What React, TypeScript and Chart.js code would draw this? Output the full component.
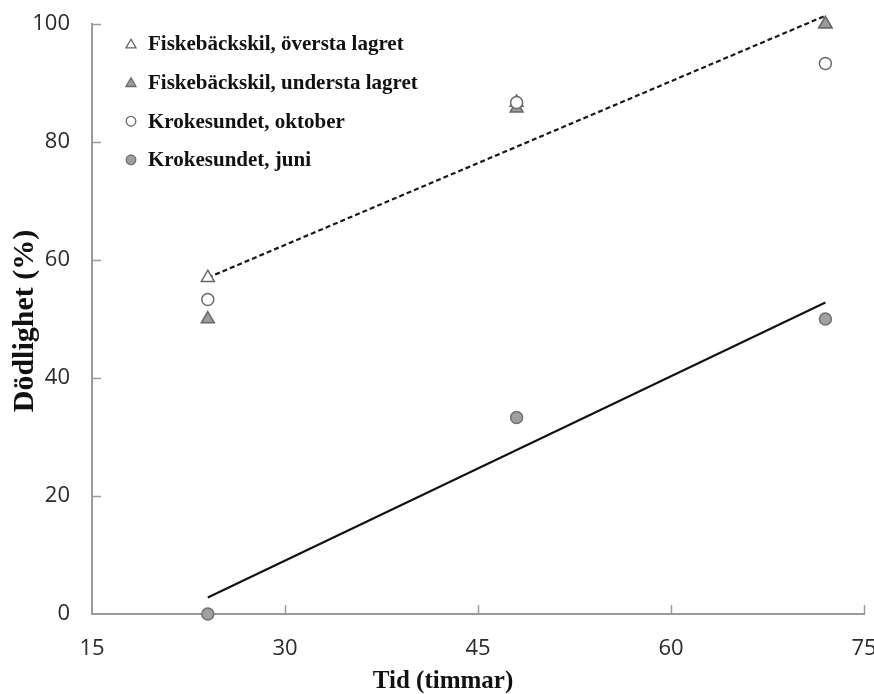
import React, { useEffect, useRef } from 'react';
import { Chart, registerables } from 'chart.js';

Chart.register(...registerables);

// ---- data ----
const timeHours = [24, 48, 72];
const fiskOversta = [57, 86.7, 100];
const fiskUndersta = [50, 85.7, 100];
const krokOktober = [53.3, 86.7, 93.3];
const krokJuni = [0, 33.3, 50];
const trendX = [24, 72];
const trendDashed = [57, 101.4];
const trendSolid = [2.8, 52.8];
const xTickValues = [15, 30, 45, 60, 75];
const yTickValues = [0, 20, 40, 60, 80, 100];
const seriesLabels = [
  'Fiskebäckskil, översta lagret',
  'Fiskebäckskil, understa lagret',
  'Krokesundet, oktober',
  'Krokesundet, juni',
];
const xTitle = 'Tid (timmar)';
const yTitle = 'Dödlighet (%)';

const SERIF = "'Liberation Serif', 'Times New Roman', serif";
const SANS = "'Open Sans', 'Liberation Sans', sans-serif";
const AXIS_COLOR = '#9a9a9a';
const TEXT_DARK = '#111111';

const toPoints = (xs: number[], ys: number[]) => xs.map((x, i) => ({ x, y: ys[i] }));

function drawMarker(ctx: CanvasRenderingContext2D, style: string, x: number, y: number, r: number, fill: string, stroke: string) {
  ctx.save();
  ctx.beginPath();
  if (style === 'triangle') {
    let rad = 0;
    ctx.moveTo(x + Math.sin(rad) * r, y - Math.cos(rad) * r);
    rad += (2 * Math.PI) / 3;
    ctx.lineTo(x + Math.sin(rad) * r, y - Math.cos(rad) * r);
    rad += (2 * Math.PI) / 3;
    ctx.lineTo(x + Math.sin(rad) * r, y - Math.cos(rad) * r);
    ctx.closePath();
  } else {
    ctx.arc(x, y, r, 0, Math.PI * 2);
  }
  ctx.fillStyle = fill;
  ctx.fill();
  ctx.lineWidth = 1.3;
  ctx.strokeStyle = stroke;
  ctx.stroke();
  ctx.restore();
}

const innerLegend = {
  id: 'innerLegend',
  afterDraw(chart: any) {
    const ctx = chart.ctx as CanvasRenderingContext2D;
    const items = chart.data.datasets.filter((d: any) => d.inLegend);
    const x0 = 131;
    const y0 = 44;
    const step = 38.6;
    ctx.save();
    items.forEach((d: any, i: number) => {
      const y = y0 + i * step;
      const tri = d.pointStyle === 'triangle';
      drawMarker(ctx, d.pointStyle, x0, y + (tri ? 1 : 0), tri ? 5.8 : 4.8, d.pointBackgroundColor, d.pointBorderColor);
      ctx.font = `bold 21px ${SERIF}`;
      ctx.fillStyle = TEXT_DARK;
      ctx.textAlign = 'left';
      ctx.textBaseline = 'middle';
      ctx.fillText(d.label, 148, y + 1);
    });
    ctx.restore();
  },
};

const axisTitles = {
  id: 'axisTitles',
  afterDraw(chart: any) {
    const ctx = chart.ctx as CanvasRenderingContext2D;
    ctx.save();
    ctx.fillStyle = TEXT_DARK;
    ctx.font = `bold 25px ${SERIF}`;
    ctx.textAlign = 'center';
    ctx.textBaseline = 'alphabetic';
    ctx.fillText(xTitle, 443, 688);
    ctx.translate(33, 321);
    ctx.rotate(-Math.PI / 2);
    ctx.font = `bold 30px ${SERIF}`;
    ctx.fillText(yTitle, 0, 0);
    ctx.restore();
  },
};

const innerTicks = {
  id: 'innerTicks',
  afterDraw(chart: any) {
    const ctx = chart.ctx as CanvasRenderingContext2D;
    const xs = chart.scales.x;
    const ys = chart.scales.y;
    const area = chart.chartArea;
    ctx.save();
    ctx.strokeStyle = AXIS_COLOR;
    ctx.lineWidth = 1.5;
    xTickValues.slice(1).forEach((v) => {
      const px = Math.round(xs.getPixelForValue(v)) + 0.5;
      ctx.beginPath();
      ctx.moveTo(px, area.bottom);
      ctx.lineTo(px, area.bottom - 9);
      ctx.stroke();
    });
    yTickValues.slice(1).forEach((v) => {
      const py = Math.round(ys.getPixelForValue(v)) + 0.5;
      ctx.beginPath();
      ctx.moveTo(area.left, py);
      ctx.lineTo(area.left + 9, py);
      ctx.stroke();
    });
    ctx.restore();
  },
};

export default function App() {
  const canvasRef = useRef<HTMLCanvasElement>(null);

  useEffect(() => {
    if (!canvasRef.current) return;
    const markerBase = {
      type: 'scatter' as const,
      showLine: false,
      inLegend: true,
      pointBorderWidth: 1.5,
      clip: false,
    };
    const chart = new Chart(canvasRef.current, {
      type: 'scatter',
      data: {
        datasets: [
          {
            type: 'line',
            label: 'trend dashed',
            data: toPoints(trendX, trendDashed),
            borderColor: '#1a1a1a',
            borderWidth: 2.2,
            borderDash: [5, 3],
            pointRadius: 0,
            showLine: true,
            fill: false,
            clip: false,
            order: 10,
          } as any,
          {
            type: 'line',
            label: 'trend solid',
            data: toPoints(trendX, trendSolid),
            borderColor: '#111111',
            borderWidth: 2,
            pointRadius: 0,
            showLine: true,
            fill: false,
            clip: false,
            order: 9,
          } as any,
          {
            ...markerBase,
            label: seriesLabels[0],
            data: toPoints(timeHours, fiskOversta),
            pointStyle: 'triangle',
            pointRadius: 7.5,
            pointBackgroundColor: '#ffffff',
            pointBorderColor: '#666666',
            order: 4,
          } as any,
          {
            ...markerBase,
            label: seriesLabels[1],
            data: toPoints(timeHours, fiskUndersta),
            pointStyle: 'triangle',
            pointRadius: 7.5,
            pointBackgroundColor: '#9b9b9b',
            pointBorderColor: '#6a6a6a',
            order: 3,
          } as any,
          {
            ...markerBase,
            label: seriesLabels[2],
            data: toPoints(timeHours, krokOktober),
            pointStyle: 'circle',
            pointRadius: 6,
            pointBackgroundColor: '#ffffff',
            pointBorderColor: '#6a6a6a',
            order: 2,
          } as any,
          {
            ...markerBase,
            label: seriesLabels[3],
            data: toPoints(timeHours, krokJuni),
            pointStyle: 'circle',
            pointRadius: 6,
            pointBackgroundColor: '#a0a0a0',
            pointBorderColor: '#707070',
            order: 1,
          } as any,
        ],
      },
      options: {
        animation: false,
        responsive: false,
        layout: { padding: { top: 24, right: 10, left: 0, bottom: 0 } },
        plugins: {
          legend: { display: false },
          tooltip: { enabled: false },
        },
        scales: {
          x: {
            type: 'linear',
            min: 15,
            max: 75,
            afterBuildTicks: (s: any) => {
              s.ticks = xTickValues.map((v) => ({ value: v }));
            },
            afterFit: (s: any) => {
              s.height = 80;
              s.paddingLeft = 0;
              s.paddingRight = 0;
            },
            grid: { display: false, drawTicks: false },
            border: { display: true, color: AXIS_COLOR, width: 2 },
            ticks: {
              padding: 22,
              color: '#2a2a2a',
              font: { family: SANS, size: 22 },
              maxRotation: 0,
            },
            title: { display: false },
          },
          y: {
            type: 'linear',
            min: 0,
            max: 100,
            afterBuildTicks: (s: any) => {
              s.ticks = yTickValues.map((v) => ({ value: v }));
            },
            afterFit: (s: any) => {
              s.width = 92;
              s.paddingTop = 0;
              s.paddingBottom = 0;
            },
            grid: { display: false, drawTicks: false },
            border: { display: true, color: AXIS_COLOR, width: 2 },
            ticks: {
              padding: 22,
              color: '#2a2a2a',
              font: { family: SANS, size: 22 },
            },
            title: { display: false },
          },
        },
      },
      plugins: [innerTicks, innerLegend, axisTitles],
    });
    return () => chart.destroy();
  }, []);

  return (
    <div style={{ position: 'fixed', left: 0, top: 0, width: 874, height: 694, background: '#ffffff' }}>
      <canvas ref={canvasRef} width={874} height={694} />
    </div>
  );
}
